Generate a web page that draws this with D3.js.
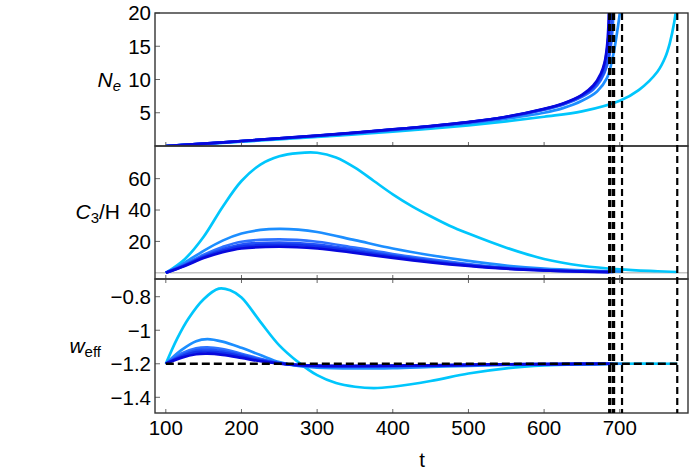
<!DOCTYPE html>
<html>
<head>
<meta charset="utf-8">
<script src="https://cdn.jsdelivr.net/npm/d3@7"></script>
<style>
  body { margin: 0; background: #fff; }
  text { font-family: "Liberation Sans", Arial, sans-serif; fill: #000; }
</style>
</head>
<body>
<div id="chart"></div>
<script>
// time ticks and asymptotes (t where N_e blows up)
var tTicks = [100, 200, 300, 400, 500, 600, 700];
var asymptotes = [686, 687.5, 691, 692.5, 703, 776];
var wRef = -1.2;

var neTicks = [5, 10, 15, 20];
var c3Ticks = [20, 40, 60];
var wTicks = [-1.4, -1.2, -1, -0.8];

// N_e curves, [t, N_e], lightest first
var ne1 = [[100,0],[150,0.3],[200,0.65],[250,1.0],[300,1.35],[350,1.75],[400,2.15],[450,2.6],[500,3.1],[550,3.7],[600,4.4],[650,5.2],[700,6.8],[725,8.4],[750,11.2],[760,13.3],[766,15.4],[772,18.6],[776,22]];
var ne2 = [[100,0],[150,0.33],[200,0.7],[250,1.1],[300,1.5],[350,1.9],[400,2.35],[450,2.85],[500,3.4],[550,4.1],[600,5.0],[625,5.7],[650,6.8],[670,8.2],[683,10.2],[691,13.5],[697,17.5],[701,21],[703,26]];
var ne3 = [[100,0],[150,0.34],[200,0.73],[250,1.13],[300,1.53],[350,1.97],[400,2.45],[450,2.95],[500,3.55],[550,4.3],[600,5.45],[625,6.2],[650,7.4],[665,8.5],[675,9.9],[683,12],[688,14.8],[691,18.5],[692.5,24]];
var ne4 = [[100,0],[150,0.35],[200,0.74],[250,1.14],[300,1.54],[350,1.98],[400,2.47],[450,2.97],[500,3.57],[550,4.35],[600,5.5],[625,6.3],[650,7.5],[665,8.7],[675,10.1],[683,12.3],[687,15],[689.5,18.5],[691,24]];
var ne5 = [[100,0],[150,0.35],[200,0.75],[250,1.15],[300,1.55],[350,1.99],[400,2.49],[450,2.99],[500,3.59],[550,4.38],[600,5.55],[625,6.35],[650,7.6],[665,8.9],[675,10.6],[680,12.3],[683.5,14.8],[686,18],[687.5,24]];
var ne6 = [[100,0],[150,0.35],[200,0.75],[250,1.15],[300,1.55],[350,2.0],[400,2.5],[450,3.0],[500,3.6],[550,4.4],[600,5.6],[625,6.4],[650,7.7],[665,9.1],[675,10.9],[680,12.6],[683,14.8],[685,18],[686,24]];

// C3/H curves
var c31 = [[100,0],[125,8.7],[150,23],[175,42],[200,58.5],[225,69],[250,74.3],[275,76.3],[300,76.5],[325,73.5],[350,67],[375,58.5],[400,50],[425,42.5],[450,36],[475,30],[500,25],[550,16],[600,8.8],[650,4.5],[700,2.2],[750,1.0],[776,0.5]];
var c32 = [[100,0],[125,6.5],[150,14],[175,20.5],[200,25],[225,27.3],[250,28],[275,27.5],[300,26],[350,20.8],[400,15.5],[450,11.2],[500,7.6],[550,4.6],[600,2.6],[650,1.5],[703,0.8]];
var c33 = [[100,0],[125,5.4],[150,11.5],[175,16.5],[200,19.8],[250,21.3],[300,19.8],[350,16],[400,12],[450,8.5],[500,5.6],[550,3.3],[600,1.9],[650,1.1],[692.5,0.6]];
var c34 = [[100,0],[125,5],[150,10.6],[175,15],[200,18],[250,19.3],[300,18],[350,14.7],[400,11],[450,7.8],[500,5.1],[550,3],[600,1.7],[650,1.0],[691,0.5]];
var c35 = [[100,0],[125,4.7],[150,10],[175,14],[200,16.7],[250,17.9],[300,16.7],[350,13.7],[400,10.3],[450,7.2],[500,4.7],[550,2.8],[600,1.6],[650,0.9],[687.5,0.5]];
var c36 = [[100,0],[125,4.4],[150,9.4],[175,13.1],[200,15.5],[250,16.6],[300,15.5],[350,12.7],[400,9.5],[450,6.7],[500,4.4],[550,2.6],[600,1.5],[650,0.8],[686,0.4]];

// w_eff curves
var w1 = [[100,-1.2],[115,-1.05],[130,-0.93],[150,-0.815],[170,-0.752],[185,-0.762],[200,-0.805],[225,-0.95],[250,-1.09],[275,-1.19],[300,-1.268],[325,-1.315],[350,-1.337],[375,-1.345],[400,-1.337],[450,-1.303],[500,-1.258],[550,-1.227],[600,-1.21],[650,-1.203],[700,-1.2],[776,-1.2]];
var w2 = [[100,-1.2],[120,-1.12],[140,-1.065],[155,-1.053],[175,-1.068],[200,-1.105],[225,-1.148],[250,-1.19],[275,-1.213],[300,-1.223],[350,-1.228],[400,-1.226],[450,-1.219],[500,-1.212],[550,-1.207],[600,-1.204],[650,-1.202],[703,-1.2]];
var w3 = [[100,-1.2],[120,-1.14],[140,-1.108],[155,-1.102],[175,-1.113],[200,-1.14],[225,-1.17],[250,-1.195],[275,-1.21],[300,-1.216],[350,-1.218],[400,-1.216],[450,-1.212],[500,-1.208],[550,-1.205],[600,-1.203],[650,-1.201],[692.5,-1.2]];
var w4 = [[100,-1.2],[120,-1.15],[140,-1.12],[155,-1.115],[175,-1.124],[200,-1.148],[225,-1.175],[250,-1.197],[275,-1.209],[300,-1.214],[350,-1.216],[400,-1.214],[450,-1.211],[500,-1.207],[550,-1.204],[600,-1.202],[650,-1.201],[691,-1.2]];
var w5 = [[100,-1.2],[120,-1.158],[140,-1.131],[155,-1.127],[175,-1.135],[200,-1.156],[225,-1.18],[250,-1.198],[275,-1.208],[300,-1.212],[350,-1.214],[400,-1.212],[450,-1.21],[500,-1.206],[550,-1.204],[600,-1.202],[650,-1.201],[687.5,-1.2]];
var w6 = [[100,-1.2],[120,-1.165],[140,-1.143],[155,-1.14],[175,-1.147],[200,-1.165],[225,-1.185],[250,-1.199],[275,-1.207],[300,-1.211],[350,-1.213],[400,-1.211],[450,-1.209],[500,-1.206],[550,-1.203],[600,-1.202],[650,-1.201],[686,-1.2]];

var colors = ["#00c6fc", "#1c8eff", "#2e72ff", "#2152f8", "#1232ec", "#0808dc"];

var width = 690,
  height = 474,
  left = 155,
  right = 688;

var svg = d3.select("#chart")
  .append("svg")
  .attr("width", width)
  .attr("height", height);

var x = d3.scaleLinear().domain([85.7, 790.2]).range([left, right]);

var panels = [
  { y: d3.scaleLinear().domain([0, 20]).range([146, 13]), ticks: neTicks, data: [ne1, ne2, ne3, ne4, ne5, ne6] },
  { y: d3.scaleLinear().domain([-3.95, 80.8]).range([279, 146]), ticks: c3Ticks, data: [c31, c32, c33, c34, c35, c36], zero: true },
  { y: d3.scaleLinear().domain([-1.4936, -0.6944]).range([413, 279]), ticks: wTicks, data: [w1, w2, w3, w4, w5, w6] }
];

function fmt(d) { return String(d).replace("-", "\u2212"); }

panels.forEach(function (p, i) {
  var top = p.y.range()[1], bot = p.y.range()[0];
  var g = svg.append("g");

  g.append("clipPath").attr("id", "clip" + i)
    .append("rect").attr("x", left).attr("y", top)
    .attr("width", right - left).attr("height", bot - top);

  if (p.zero) {
    g.append("line")
      .attr("x1", left).attr("x2", right)
      .attr("y1", p.y(0)).attr("y2", p.y(0))
      .attr("stroke", "#c4c4c4").attr("stroke-width", 1.6);
  }

  var line = d3.line()
    .x(function (d) { return x(d[0]); })
    .y(function (d) { return p.y(d[1]); })
    .curve(d3.curveCatmullRom.alpha(0.5));

  g.append("g").attr("clip-path", "url(#clip" + i + ")")
    .selectAll("path")
    .data(p.data)
    .enter()
    .append("path")
    .attr("d", line)
    .attr("fill", "none")
    .attr("stroke", function (d, j) { return colors[j]; })
    .attr("stroke-width", 2.7)
    .attr("stroke-linejoin", "round");

  // y ticks
  g.selectAll(".yt").data(p.ticks).enter().append("line")
    .attr("x1", left).attr("x2", left + 5)
    .attr("y1", function (d) { return p.y(d); })
    .attr("y2", function (d) { return p.y(d); })
    .attr("stroke", "#666").attr("stroke-width", 1);
  g.selectAll(".yl").data(p.ticks).enter().append("text")
    .attr("x", left - 4)
    .attr("y", function (d) { return p.y(d); })
    .attr("dy", "0.36em")
    .attr("text-anchor", "end")
    .style("font-size", "20.5px")
    .text(fmt);

  // x ticks, bottom inside
  g.selectAll(".xt").data(tTicks).enter().append("line")
    .attr("x1", function (d) { return x(d); })
    .attr("x2", function (d) { return x(d); })
    .attr("y1", bot).attr("y2", bot - 4)
    .attr("stroke", "#666").attr("stroke-width", 1);
  if (i === 2) {
    g.selectAll(".xt2").data(tTicks).enter().append("line")
      .attr("x1", function (d) { return x(d); })
      .attr("x2", function (d) { return x(d); })
      .attr("y1", top).attr("y2", top + 4)
      .attr("stroke", "#666").attr("stroke-width", 1);
  }

  g.append("rect")
    .attr("x", left).attr("y", top)
    .attr("width", right - left).attr("height", bot - top)
    .attr("fill", "none").attr("stroke", "#333").attr("stroke-width", 1.4);
});

var wY = panels[2].y;

// horizontal reference line at w = -1.2
svg.append("line")
  .attr("x1", x(100)).attr("x2", x(776))
  .attr("y1", wY(wRef)).attr("y2", wY(wRef))
  .attr("stroke", "#000").attr("stroke-width", 2.4)
  .attr("stroke-dasharray", "8,4");

// vertical asymptotes
svg.selectAll(".asym").data(asymptotes).enter().append("line")
  .attr("x1", function (d) { return x(d); })
  .attr("x2", function (d) { return x(d); })
  .attr("y1", 13).attr("y2", 413)
  .attr("stroke", "#000").attr("stroke-width", 2.2)
  .attr("stroke-dasharray", "7,4");

// x tick labels
svg.selectAll(".xl").data(tTicks).enter().append("text")
  .attr("x", function (d) { return x(d); })
  .attr("y", 435)
  .attr("text-anchor", "middle")
  .style("font-size", "20.5px")
  .text(function (d) { return d; });

svg.append("text")
  .attr("x", 422).attr("y", 467)
  .attr("text-anchor", "middle")
  .style("font-size", "20.5px")
  .text("t");

// axis labels
var lab1 = svg.append("text").attr("x", 121).attr("y", 87).attr("text-anchor", "end").style("font-size", "21px");
lab1.append("tspan").style("font-style", "italic").text("N");
lab1.append("tspan").style("font-style", "italic").style("font-size", "15px").attr("dy", 4).text("e");

var lab2 = svg.append("text").attr("x", 120).attr("y", 219).attr("text-anchor", "end").style("font-size", "21px");
lab2.append("tspan").style("font-style", "italic").text("C");
lab2.append("tspan").style("font-size", "15px").attr("dy", 4).text("3");
lab2.append("tspan").attr("dy", -4).text("/H");

var lab3 = svg.append("text").attr("x", 101).attr("y", 353).attr("text-anchor", "end").style("font-size", "21px");
lab3.append("tspan").style("font-style", "italic").text("w");
lab3.append("tspan").style("font-size", "15px").attr("dy", 4).text("eff");
</script>
</body>
</html>
